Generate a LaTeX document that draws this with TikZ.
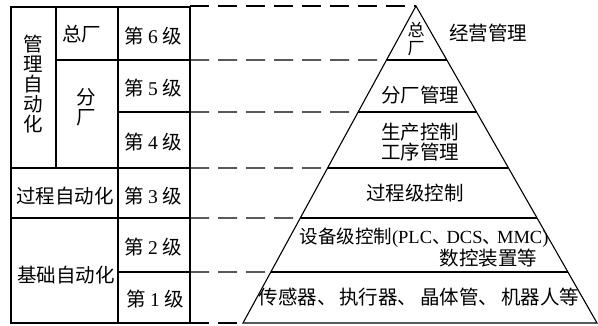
\documentclass[tikz,border=0pt]{standalone}
\usepackage{fontspec}
\setmainfont{Noto Sans CJK SC}
\newfontfamily\lat{Liberation Serif}
\usetikzlibrary{calc}
\begin{document}
\begin{tikzpicture}[x=1pt,y=-1pt,line width=1.1pt,
  lbl/.style={inner sep=0pt,font=\fontsize{19.5}{20}\selectfont,align=center},
  dsh/.style={dash pattern=on 19pt off 9pt}]
\useasboundingbox (0,0) rectangle (598,326);
% table
\draw (11,7) rectangle (190,323);
\draw (56,7) -- (56,168);
\draw (118,7) -- (118,323);
\draw (56,60) -- (190,60);
\draw (118,112) -- (190,112);
\draw (11,168) -- (190,168);
\draw (11,218) -- (190,218);
\draw (118,272) -- (190,272);
% pyramid
\coordinate (A) at (416,6);
\coordinate (BL) at (243,323);
\coordinate (BR) at (597,323);
\draw (BL) -- (A) -- (BR) -- cycle;
\foreach \y/\t in {60/0.1703,112/0.3344,168/0.5110,218/0.6688,272/0.8391}{
  \draw ($(A)!\t!(BL)$) -- ($(A)!\t!(BR)$);
  \draw[dsh] (190,\y) -- ($(A)!\t!(BL)$);
}
\draw[dsh] (190,6) -- (A);
\draw[dsh] (190,323) -- (BL);
% table text
\node[lbl] (gl) at (33,84) {管\\理\\自\\动\\化};
\node[lbl] (zc) at (82,34) {总厂};
\node[lbl] (fc) at (86,107) {分\\厂};
\node[lbl] (l6) at (153,36) {第 {\lat 6} 级};
\node[lbl] (l5) at (153,88) {第 {\lat 5} 级};
\node[lbl] (l4) at (153,142) {第 {\lat 4} 级};
\node[lbl] (l3) at (153,196) {第 {\lat 3} 级};
\node[lbl] (l2) at (153,247) {第 {\lat 2} 级};
\node[lbl] (l1) at (155,299) {第 {\lat 1} 级};
\node[lbl] (gc) at (65,196) {过程自动化};
\node[lbl] (jc) at (66,275) {基础自动化};
% pyramid text
\node[lbl,font=\fontsize{17}{18}\selectfont] (pz) at (416,39) {总\\厂};
\node[lbl] (jy) at (488,33) {经营管理};
\node[lbl] (fg) at (420,95) {分厂管理};
\node[lbl] (sc) at (420,142) {生产控制\\工序管理};
\node[lbl] (gk) at (415,193) {过程级控制};
\node[lbl,font=\fontsize{18.5}{20}\selectfont] (sb) at (424,238) {设备级控制{\lat (PLC}、\hspace{-4pt}{\lat DCS}、\hspace{-4pt}{\lat MMC)}};
\node[lbl,anchor=east] (sk) at (538,258) {数控装置等};
\node[lbl] (cg) at (419,297) {传感器、\hspace{3pt}执行器、\hspace{3pt}晶体管、\hspace{3pt}机器人等};
\end{tikzpicture}
\end{document}
